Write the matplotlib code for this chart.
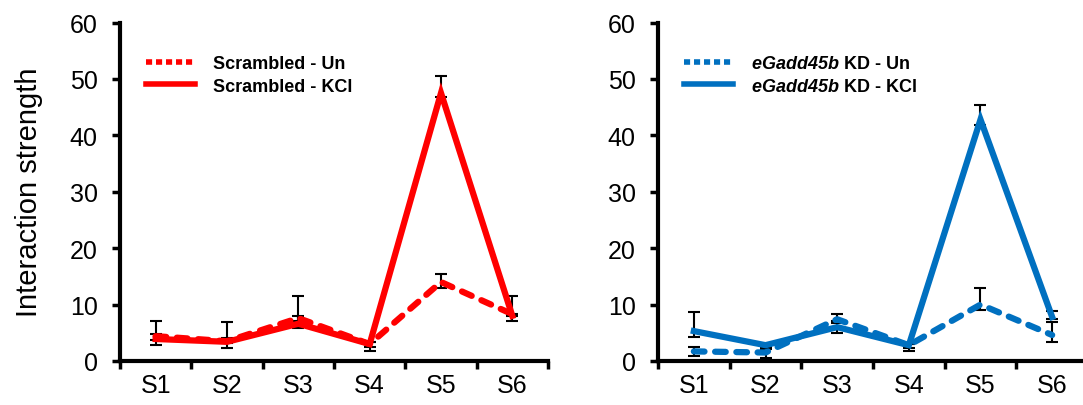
import numpy as np
import matplotlib
matplotlib.use("Agg")
import matplotlib.pyplot as plt
from matplotlib.lines import Line2D

plt.rcParams["font.family"] = ["Liberation Sans", "DejaVu Sans"]
plt.rcParams["mathtext.fontset"] = "custom"
plt.rcParams["mathtext.bfit"] = "Liberation Sans:italic:bold"

# Samples along the x axis
samples = ["S1", "S2", "S3", "S4", "S5", "S6"]

# Scrambled (left panel)
scr_un = [4.4, 3.5, 7.6, 3.0, 14.0, 8.3]
scr_un_lo = [0.6, 0.3, 0.5, 0.6, 1.1, 0.3]
scr_un_hi = [0.3, 0.5, 0.3, 0.3, 1.4, 3.2]
scr_kcl = [3.9, 3.4, 6.6, 3.0, 47.5, 8.0]
scr_kcl_lo = [1.1, 1.15, 0.8, 1.3, 0.7, 0.9]
scr_kcl_hi = [3.2, 3.5, 5.0, 0.3, 3.0, 0.3]

# eGadd45b KD (right panel)
kd_un = [1.7, 1.5, 7.4, 2.8, 10.0, 4.6]
kd_un_lo = [0.9, 1.0, 0.3, 0.5, 1.0, 1.3]
kd_un_hi = [0.7, 0.6, 0.9, 0.3, 2.9, 2.4]
kd_kcl = [5.3, 2.8, 6.0, 2.8, 42.8, 7.8]
kd_kcl_lo = [1.1, 0.3, 1.0, 1.0, 0.9, 0.3]
kd_kcl_hi = [3.4, 0.3, 0.7, 0.3, 2.6, 1.1]

RED = "#FF0000"
BLUE = "#0070C0"


def draw_panel(ax, un, un_lo, un_hi, kcl, kcl_lo, kcl_hi, color, labels, ylabel=None):
    """One panel: Un (dashed) and KCl (solid) with black error bars underneath."""
    x = np.arange(len(samples)) + 0.5
    for vals, lo, hi in ((kcl, kcl_lo, kcl_hi), (un, un_lo, un_hi)):
        ax.errorbar(x, vals, yerr=[lo, hi], fmt="none", ecolor="black",
                    elinewidth=1.5, capsize=4.3, capthick=1.5, zorder=2)
    ax.plot(x, kcl, color=color, lw=4.5, solid_joinstyle="miter", zorder=3)
    ax.plot(x, un, color=color, lw=4.5, dashes=(1.7, 1.7),
            dash_capstyle="round", zorder=4)

    ax.set_xlim(0, 6)
    ax.set_ylim(0, 60)
    ax.set_yticks(range(0, 61, 10))
    ax.set_xticks(range(0, 7))
    ax.set_xticklabels([])
    ax.set_xticks(x, minor=True)
    ax.set_xticklabels(samples, minor=True)
    ax.tick_params(axis="x", which="major", direction="out", length=6, width=2.5)
    ax.tick_params(axis="x", which="minor", length=0, pad=9, labelsize=18)
    ax.tick_params(axis="y", direction="out", length=6, width=2.5, pad=10, labelsize=18)
    for side in ("top", "right"):
        ax.spines[side].set_visible(False)
    for side in ("left", "bottom"):
        ax.spines[side].set_linewidth(3)
    if ylabel:
        ax.set_ylabel(ylabel, fontsize=21, labelpad=19)

    handles = [Line2D([], [], color=color, lw=4, dashes=(1.1, 0.7), dash_capstyle="butt"),
               Line2D([], [], color=color, lw=4)]
    ax.legend(handles, labels, loc="upper left", bbox_to_anchor=(0.04, 0.93),
              frameon=False, handlelength=2.7, handletextpad=1.0,
              labelspacing=0.3, borderpad=0, prop={"weight": "bold", "size": 13})


fig = plt.figure(figsize=(10.83, 4.06), dpi=100)
ax1 = fig.add_axes([0.1108, 0.1084, 0.3952, 0.8337])
ax2 = fig.add_axes([0.6076, 0.1084, 0.397, 0.8337])

draw_panel(ax1, scr_un, scr_un_lo, scr_un_hi, scr_kcl, scr_kcl_lo, scr_kcl_hi, RED,
           ["Scrambled - Un", "Scrambled - KCl"], ylabel="Interaction strength")
draw_panel(ax2, kd_un, kd_un_lo, kd_un_hi, kd_kcl, kd_kcl_lo, kd_kcl_hi, BLUE,
           [r"$\mathbfit{eGadd45b}$ KD - Un", r"$\mathbfit{eGadd45b}$ KD - KCl"])

fig.savefig("out.png", dpi=100)
